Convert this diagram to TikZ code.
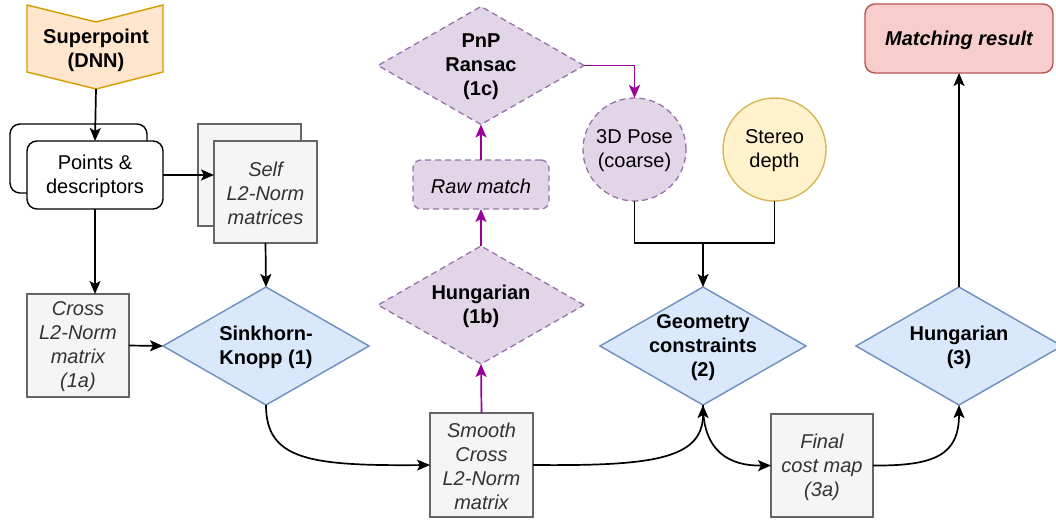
\documentclass[tikz,border=0pt]{standalone}
\usepackage{fontspec}
\setmainfont{Liberation Sans}
\usetikzlibrary{shapes.geometric,arrows.meta}

\definecolor{blueFill}{HTML}{DAE8FC}
\definecolor{blueLine}{HTML}{6C8EBF}
\definecolor{purpleFill}{HTML}{E1D5E7}
\definecolor{purpleLine}{HTML}{9673A6}
\definecolor{arrowPurple}{HTML}{990099}
\definecolor{grayFill}{HTML}{F5F5F5}
\definecolor{grayLine}{HTML}{666666}
\definecolor{grayText}{HTML}{333333}
\definecolor{orangeFill}{HTML}{FFE6CC}
\definecolor{orangeLine}{HTML}{D79B00}
\definecolor{redFill}{HTML}{F8CECC}
\definecolor{redLine}{HTML}{B85450}
\definecolor{yellowFill}{HTML}{FFF2CC}
\definecolor{yellowLine}{HTML}{D6B656}

\newcommand{\txt}{\fontsize{20}{24}\selectfont}

\begin{document}
\begin{tikzpicture}[x=1pt,y=-1pt,
  every node/.style={font=\txt, inner sep=0pt, outer sep=0pt, align=center},
  every label/.style={yshift=-1.5pt},
  arr/.style={draw=black, line width=1.7pt, -{Stealth[length=13pt,width=11pt,inset=3pt]}},
  plain/.style={draw=black, line width=1.7pt},
  parr/.style={arr, draw=arrowPurple},
  purpledash/.style={draw=purpleLine, fill=purpleFill, line width=1.3pt, dash pattern=on 6pt off 4pt},
  bluedia/.style={diamond, draw=blueLine, fill=blueFill, line width=1.4pt,
    minimum width=206pt, minimum height=118pt},
  purpledia/.style={diamond, purpledash, minimum width=206pt, minimum height=118pt},
  dlabel/.style={font=\txt\bfseries, align=center, text=black},
  graybox/.style={rectangle, draw=grayLine, fill=grayFill, line width=1.4pt,
    text=grayText, font=\txt\itshape},
  roundbox/.style={rectangle, rounded corners=10pt, draw=black, fill=white, line width=1.4pt},
  circ/.style={circle, minimum size=103pt, line width=1.4pt},
  tshift/.style={text depth=-1.5pt}
]
\useasboundingbox (0,0) rectangle (1056,519);

% Feature extractor (chevron shape)
\draw[draw=orangeLine, fill=orangeFill, line width=1.4pt]
  (27,5) -- (96,22) -- (163,5) -- (163,72) -- (96,89) -- (27,72) -- cycle;
\node[font=\txt\bfseries] (sp) at (96,50.5) {Superpoint\\(DNN)};
\coordinate (spb) at (96,89);

% Keypoints and descriptors (stacked)
\node[roundbox, minimum width=137pt, minimum height=69pt] (ptsback) at (78.5,158.5) {};
\node[roundbox, minimum width=136pt, minimum height=68pt] (pts) at (95,175) {};
\node (ptstext) at (95,176.5) {Points \&\\descriptors};

% Self distance matrices (stacked)
\node[graybox, minimum width=103pt, minimum height=102pt] (selfback) at (249.5,175) {};
\node[graybox, minimum width=103pt, minimum height=102pt] (self) at (265.5,192) {};
\node[text=grayText, font=\txt\itshape] (selftext) at (265.5,193.5) {Self\\L2-Norm\\matrices};

% Cross distance matrix
\node[graybox, minimum width=102pt, minimum height=103pt, label={[text=grayText, font=\txt\itshape, align=center]center:Cross\\L2-Norm\\matrix\\(1a)}] (cross) at (78,345.5) {};

% Processing steps
\node[bluedia, label={[dlabel]center:Sinkhorn-\\Knopp (1)}] (sink) at (266,346) {};
\node[graybox, minimum width=103pt, minimum height=104pt, label={[text=grayText, font=\txt\itshape, align=center]center:Smooth\\Cross\\L2-Norm\\matrix}] (smooth) at (481.5,465) {};
\node[purpledia, label={[dlabel]center:Hungarian\\(1b)}] (hun1) at (481,305) {};
\node[rectangle, rounded corners=8pt, purpledash, minimum width=136pt, minimum height=49pt,
  label={[font=\txt\itshape]center:Raw match}] (raw) at (481,184.5) {};
\node[purpledia, label={[dlabel]center:PnP\\Ransac\\(1c)}] (pnp) at (481,65.5) {};
\node[circ, purpledash, label={[align=center]center:3D Pose\\(coarse)}] (pose) at (634.5,149.5) {};
\node[circ, draw=yellowLine, fill=yellowFill, label={[align=center]center:Stereo\\depth}] (stereo) at (774.5,149.5) {};
\node[bluedia, label={[dlabel]center:Geometry\\constraints\\(2)}] (geo) at (703,346) {};
\node[graybox, minimum width=102pt, minimum height=103pt, label={[text=grayText, font=\txt\itshape, align=center]center:Final\\cost map\\(3a)}] (final) at (822,465.5) {};
\node[bluedia, label={[dlabel]center:Hungarian\\(3)}] (hun3) at (959,346) {};
\node[rectangle, rounded corners=10pt, draw=redLine, fill=redFill, line width=1.4pt,
  minimum width=188pt, minimum height=69pt,
  label={[font=\txt\bfseries\itshape]center:Matching result}] (match) at (959,38.5) {};

% Connectors
\draw[arr] (spb) -- (pts.north);
\draw[arr] (pts.east) -- (pts.east -| self.west);
\draw[arr] (self.south) -- (sink.north);
\draw[arr] (pts.south) -- (pts.south |- cross.north);
\draw[arr] (cross.east) -- (sink.west);
\draw[arr] (sink.south) .. controls (266,460) and (310,466) .. (smooth.west);
\draw[parr] (smooth.north) -- (hun1.south);
\draw[parr] (hun1.north) -- (raw.south);
\draw[parr] (raw.north) -- (pnp.south);
\draw[parr] (pnp.east) -| (pose.north);
\coordinate (jn) at (703,243);
\draw[plain] (pose.south) |- (jn) -| (stereo.south);
\draw[arr] (jn) -- (geo.north);
\draw[arr] (smooth.east) .. controls (650,466) and (703,460) .. (geo.south);
\draw[arr] (geo.south) .. controls (703,452) and (730,466) .. (final.west);
\draw[arr] (final.east) .. controls (935,466) and (959,455) .. (hun3.south);
\draw[arr] (hun3.north) -- (match.south);
\end{tikzpicture}
\end{document}
